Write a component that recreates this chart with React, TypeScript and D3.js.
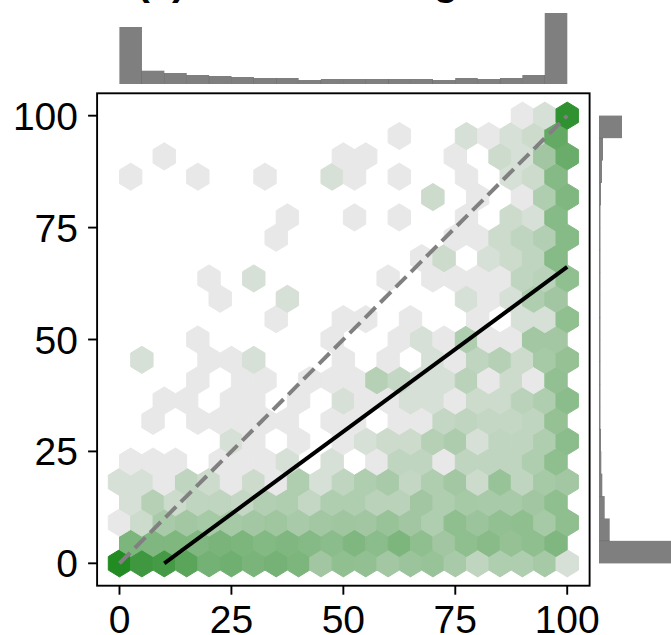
import React from "react";
import * as d3 from "d3";

const xTicks = [0, 25, 50, 75, 100];
const yTicks = [0, 25, 50, 75, 100];
const lineStart = [10, 0];
const lineEnd = [100, 66.2];
const identityStart = [0, 0];
const identityEnd = [100, 100];
const maxCount = 2200;

// Bin counts per hexagon, bottom row first. Even rows sit at x = 0,5,...,100; odd rows at x = 2.5,...,97.5.
const hexCounts: number[][] = [
  [2200, 720, 570, 250, 91, 111, 72, 84, 64, 16, 30, 27, 15, 19, 22, 12, 5, 9, 9, 13, 2],
  [64, 57, 60, 57, 72, 64, 50, 57, 47, 37, 57, 37, 64, 32, 16, 32, 42, 25, 32, 57],
  [1, 3, 12, 15, 13, 13, 15, 17, 12, 15, 17, 16, 22, 16, 9, 32, 19, 27, 32, 13, 32],
  [2, 7, 3, 5, 5, 4, 8, 9, 4, 9, 9, 6, 6, 16, 9, 13, 12, 12, 16, 32],
  [2, 2, 1, 5, 3, 1, 3, 1, 9, 2, 5, 9, 12, 4, 9, 15, 3, 22, 5, 13, 15],
  [1, 1, 1, 0, 1, 1, 1, 2, 0, 2, 0, 1, 5, 5, 1, 5, 5, 5, 9, 32],
  [0, 0, 0, 0, 0, 2, 1, 0, 1, 0, 1, 2, 3, 3, 7, 10, 2, 5, 5, 9, 37],
  [0, 1, 0, 1, 1, 1, 1, 1, 0, 1, 1, 0, 1, 1, 4, 5, 4, 4, 5, 25],
  [0, 0, 1, 1, 0, 1, 1, 0, 1, 0, 2, 1, 1, 2, 2, 1, 3, 3, 6, 9, 37],
  [0, 0, 0, 1, 0, 1, 1, 0, 1, 1, 1, 7, 4, 2, 2, 6, 1, 3, 1, 27],
  [0, 2, 0, 0, 1, 1, 2, 0, 0, 0, 1, 0, 1, 0, 2, 1, 5, 7, 3, 13, 25],
  [0, 0, 0, 1, 0, 0, 0, 0, 0, 1, 0, 0, 1, 2, 1, 9, 1, 1, 15, 15],
  [0, 0, 0, 0, 0, 0, 0, 1, 0, 0, 1, 1, 0, 1, 0, 0, 1, 0, 2, 2, 30],
  [0, 0, 0, 0, 1, 0, 0, 2, 0, 0, 0, 0, 0, 0, 0, 2, 1, 2, 9, 16],
  [0, 0, 0, 0, 1, 0, 2, 0, 0, 0, 0, 0, 1, 0, 1, 1, 1, 1, 5, 6, 30],
  [0, 0, 0, 0, 0, 0, 0, 0, 0, 0, 0, 0, 0, 1, 3, 0, 2, 3, 5, 45],
  [0, 0, 0, 0, 0, 0, 0, 1, 0, 0, 0, 0, 0, 0, 0, 1, 1, 3, 5, 8, 45],
  [0, 0, 0, 0, 0, 0, 0, 1, 0, 0, 1, 0, 1, 0, 0, 1, 0, 3, 2, 45],
  [0, 0, 0, 0, 0, 0, 0, 0, 0, 0, 0, 0, 0, 0, 3, 0, 1, 0, 1, 9, 57],
  [1, 0, 0, 1, 0, 0, 1, 0, 0, 2, 1, 0, 1, 0, 0, 1, 0, 2, 3, 47],
  [0, 0, 1, 0, 0, 0, 0, 0, 0, 0, 1, 1, 0, 0, 0, 1, 0, 3, 2, 16, 134],
  [0, 0, 0, 0, 0, 0, 0, 0, 0, 0, 0, 0, 1, 0, 0, 2, 1, 2, 3, 170],
  [0, 0, 0, 0, 0, 0, 0, 0, 0, 0, 0, 0, 0, 0, 0, 0, 0, 0, 1, 2, 1330],
];

const histEdges = d3.range(0, 101, 5);
const topHist = [57, 13.3, 11, 9, 8, 7, 6, 6, 4, 5, 5, 5, 5, 5, 4, 6, 5, 6, 9, 71];
const rightHist = [73, 10.7, 5.7, 3.3, 2.3, 2, 1.5, 1.5, 1.5, 1.5, 1.5, 1.5, 1.5, 1.5, 1.5, 1.5, 2, 3, 4, 23];

const W = 671;
const H = 635;
const FONT = "'Liberation Sans', Arial, sans-serif";

const x = d3.scaleLinear().domain([-5, 105]).range([97.1, 589.6]);
const y = d3.scaleLinear().domain([-5, 105]).range([585.7, 93.3]);
const topH = d3.scaleLinear().domain([0, 71]).range([84, 13]);
const rightH = d3.scaleLinear().domain([0, 71]).range([599, 670]);
const color = d3
  .scaleLog<string>()
  .domain([1, maxCount])
  .range(["#e8e8e8", "#228b22"])
  .interpolate(d3.interpolateRgb);

const sx = 5;
const sy = 100 / 11;
const hexShape: [number, number][] = [
  [0.5, -0.5],
  [0.5, 0.5],
  [0, 1],
  [-0.5, 0.5],
  [-0.5, -0.5],
  [0, -1],
];
const hexLine = d3
  .line<[number, number]>()
  .x((d) => x(d[0]))
  .y((d) => y(d[1]))
  .curve(d3.curveLinearClosed);

const hexCells = hexCounts.flatMap((row, k) =>
  row.map((count, j) => ({
    cx: (j + (k % 2 ? 0.5 : 0)) * sx,
    cy: (k * sy) / 2,
    count,
  }))
);

export default function App() {
  return (
    <svg
      width={W}
      height={H}
      viewBox={`0 0 ${W} ${H}`}
      style={{ position: "absolute", left: 0, top: 0, background: "#fff" }}
      fontFamily={FONT}
    >
      {/* Title: only the bottoms of these glyphs are visible in the frame */}
      <text x={161} y={-5} fontSize={40} fontWeight="bold" textAnchor="middle" fill="#000">
        (a)
      </text>
      <text x={446} y={-5} fontSize={40} fontWeight="bold" textAnchor="middle" fill="#000">
        g
      </text>

      {/* Marginal histograms */}
      {topHist.map((v, i) => (
        <rect
          key={`t${i}`}
          x={x(histEdges[i]) - 0.1}
          width={x(histEdges[i + 1]) - x(histEdges[i]) + 0.2}
          y={topH(v)}
          height={topH(0) - topH(v)}
          fill="#000"
          fillOpacity={0.5}
        />
      ))}
      {rightHist.map((v, i) => (
        <rect
          key={`r${i}`}
          x={rightH(0)}
          width={rightH(v) - rightH(0)}
          y={y(histEdges[i + 1]) - 0.1}
          height={y(histEdges[i]) - y(histEdges[i + 1]) + 0.2}
          fill="#000"
          fillOpacity={0.5}
        />
      ))}

      {/* Hexbin */}
      {hexCells
        .filter((c) => c.count > 0)
        .map((c, i) => (
          <path
            key={i}
            d={hexLine(
              hexShape.map(([a, b]) => [c.cx + a * sx, c.cy + (b * sy) / 3] as [number, number])
            ) as string}
            fill={color(c.count)}
            stroke={color(c.count)}
            strokeWidth={1}
            strokeLinejoin="round"
          />
        ))}

      {/* Reference lines */}
      <line
        x1={x(identityStart[0])}
        y1={y(identityStart[1])}
        x2={x(identityEnd[0])}
        y2={y(identityEnd[1])}
        stroke="#808080"
        strokeWidth={4}
        strokeDasharray="15 6.7"
      />
      <line
        x1={x(lineStart[0])}
        y1={y(lineStart[1])}
        x2={x(lineEnd[0])}
        y2={y(lineEnd[1])}
        stroke="#000"
        strokeWidth={4}
      />

      {/* Frame */}
      <rect
        x={x(-5)}
        y={y(105)}
        width={x(105) - x(-5)}
        height={y(-5) - y(105)}
        fill="none"
        stroke="#000"
        strokeWidth={1.9}
      />

      {/* Axes */}
      {xTicks.map((t) => (
        <g key={`x${t}`}>
          <line x1={x(t)} x2={x(t)} y1={y(-5)} y2={y(-5) + 9} stroke="#000" strokeWidth={1.9} />
          <text x={x(t)} y={632.5} fontSize={39} textAnchor="middle" fill="#000">
            {t}
          </text>
        </g>
      ))}
      {yTicks.map((t) => (
        <g key={`y${t}`}>
          <line x1={x(-5) - 9} x2={x(-5)} y1={y(t)} y2={y(t)} stroke="#000" strokeWidth={1.9} />
          <text x={78} y={y(t) + 14} fontSize={39} textAnchor="end" fill="#000">
            {t}
          </text>
        </g>
      ))}
    </svg>
  );
}
